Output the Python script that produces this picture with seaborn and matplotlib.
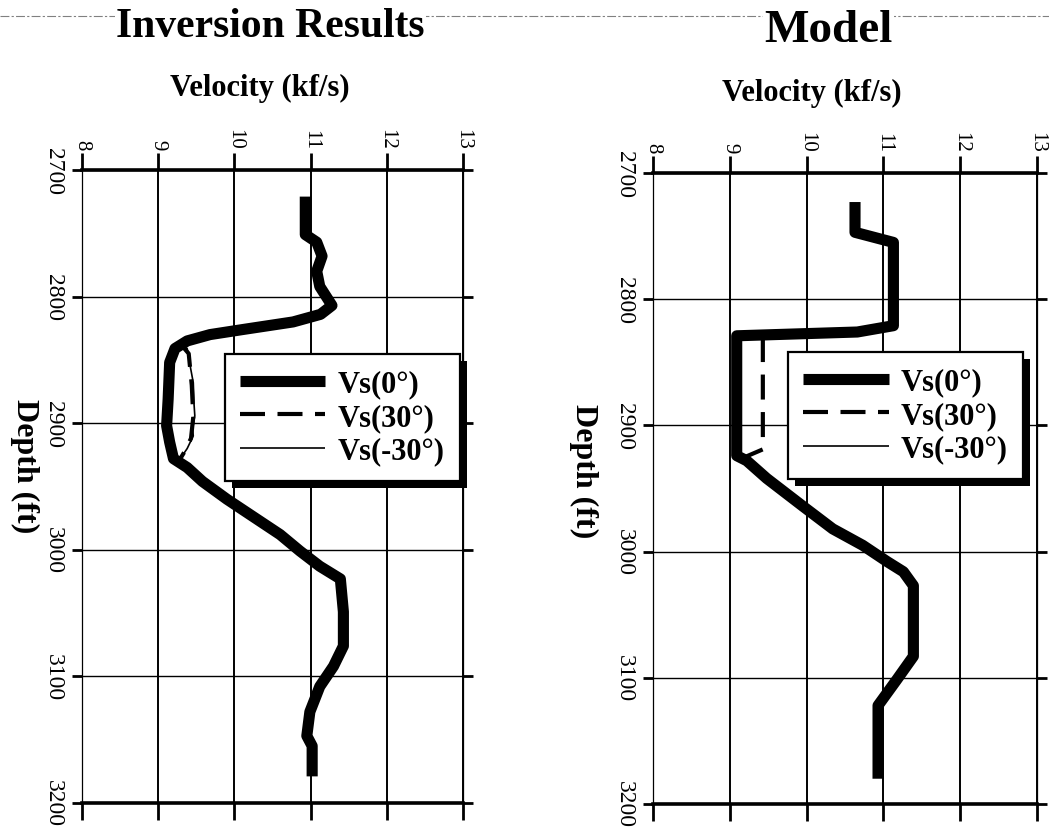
import numpy as np
import pandas as pd
import seaborn as sns
import matplotlib
matplotlib.use("Agg")
import matplotlib.pyplot as plt
from matplotlib.lines import Line2D
from matplotlib.patches import Rectangle
from matplotlib.transforms import IdentityTransform

# ---- data -----------------------------------------------------------------
velocity_ticks = [8, 9, 10, 11, 12, 13]
depth_ticks = [2700, 2800, 2900, 3000, 3100, 3200]
series_labels = ["Vs(0°)", "Vs(30°)", "Vs(-30°)"]

# Inversion results
inv_vs0_depth = [2721, 2751, 2757, 2768, 2780, 2792, 2807, 2814, 2820, 2826, 2830,
                 2835, 2841, 2852, 2881, 2902, 2915, 2928, 2935, 2946, 2960, 2976,
                 2988, 3001, 3013, 3023, 3049, 3076, 3092, 3108, 3128, 3147, 3155, 3179]
inv_vs0_vel = [10.93, 10.93, 11.08, 11.15, 11.08, 11.12, 11.28, 11.13, 10.77, 10.11, 9.68,
               9.38, 9.22, 9.15, 9.13, 9.11, 9.15, 9.20, 9.38, 9.58, 9.90, 10.30,
               10.60, 10.86, 11.12, 11.39, 11.43, 11.43, 11.30, 11.12, 10.99, 10.95, 11.02, 11.02]
inv_vs30_depth = [2838, 2845, 2870, 2895, 2912, 2922, 2932]
inv_vs30_vel = [9.30, 9.40, 9.44, 9.46, 9.43, 9.35, 9.25]
inv_vsm30_depth = [2838, 2841, 2855, 2868, 2885, 2894, 2905, 2910, 2920, 2928, 2932]
inv_vsm30_vel = [9.30, 9.38, 9.42, 9.46, 9.47, 9.48, 9.45, 9.46, 9.38, 9.29, 9.25]

# Model
mod_vs0_depth = [2723, 2747, 2755, 2821, 2826, 2829, 2924, 2928, 2942, 2964, 2982,
                 2995, 3008, 3016, 3027, 3083, 3101, 3122, 3180]
mod_vs0_vel = [10.63, 10.63, 11.13, 11.13, 10.66, 9.09, 9.09, 9.22, 9.48, 9.95, 10.34,
               10.73, 11.05, 11.26, 11.39, 11.39, 11.18, 10.93, 10.93]
mod_vs30_depth = [2830, 2919, 2925]
mod_vs30_vel = [9.43, 9.43, 9.20]
mod_vsm30_depth = [2829, 2924]
mod_vsm30_vel = [9.09, 9.09]

# ---- style ----------------------------------------------------------------
sns.set_style("white")
plt.rcParams["font.family"] = ["Liberation Serif", "DejaVu Serif"]
for key in ["axes.edgecolor", "xtick.color", "ytick.color", "text.color",
            "axes.labelcolor"]:
    plt.rcParams[key] = "black"

fig = plt.figure(figsize=(10.49, 8.29), dpi=100)
ax_inv = fig.add_axes([0.0782, 0.0302, 0.3632, 0.7635])
ax_mod = fig.add_axes([0.6225, 0.0290, 0.3661, 0.7611])

styles = {
    "Vs(0°)": dict(lw=8.0, ls="-"),
    "Vs(30°)": dict(lw=3.0, ls=(0, (6, 3))),
    "Vs(-30°)": dict(lw=1.2, ls="-"),
}


def draw_panel(ax, curves, legend_anchor, title, title_xy, title_size,
               xlabel_xy, ylabel_xy):
    handles = {}
    for label in ["Vs(-30°)", "Vs(30°)", "Vs(0°)"]:
        depth, vel = curves[label]
        df = pd.DataFrame({"Velocity": vel, "Depth": depth})
        sns.lineplot(data=df, x="Velocity", y="Depth", sort=False, estimator=None,
                     color="black", ax=ax, legend=False,
                     linewidth=styles[label]["lw"], linestyle=styles[label]["ls"],
                     solid_capstyle="butt", dash_capstyle="butt", zorder=3)
        handles[label] = ax.lines[-1]

    ax.set_xlim(velocity_ticks[0], velocity_ticks[-1])
    ax.set_ylim(depth_ticks[-1], depth_ticks[0])
    ax.set_xticks(velocity_ticks)
    ax.set_yticks(depth_ticks)
    ax.xaxis.tick_top()
    ax.tick_params(axis="x", which="major", top=True, bottom=True, labeltop=True,
                   labelbottom=False, direction="out", length=12, width=2,
                   labelrotation=-90, labelsize=15, pad=3)
    ax.tick_params(axis="y", which="major", left=True, right=True, labelleft=True,
                   labelright=False, direction="out", length=7, width=2,
                   labelrotation=-90, labelsize=17, pad=6)
    for lab in ax.get_yticklabels():
        lab.set_verticalalignment("center")
    for side in ["top", "bottom"]:
        ax.spines[side].set_linewidth(2.6)
    for side in ["left", "right"]:
        ax.spines[side].set_linewidth(0.9)
    ax.grid(True, axis="x", color="black", linewidth=1.4)
    ax.grid(True, axis="y", color="black", linewidth=1.0)

    ax.xaxis.set_label_position("top")
    ax.set_xlabel("Velocity (kf/s)", fontsize=22, fontweight="bold", va="center")
    ax.xaxis.set_label_coords(*xlabel_xy)
    ax.set_ylabel("Depth (ft)", fontsize=23, fontweight="bold", rotation=-90,
                  va="center", ha="center")
    ax.yaxis.set_label_coords(*ylabel_xy)

    leg = ax.legend([handles[l] for l in series_labels], series_labels,
                    loc="upper right", bbox_to_anchor=legend_anchor, borderaxespad=0,
                    prop={"size": 22, "weight": "bold"}, handlelength=2.8,
                    handletextpad=0.4, labelspacing=0.15, borderpad=0.5,
                    frameon=True, fancybox=False, framealpha=1, edgecolor="black")
    leg.get_frame().set_linewidth(1.6)
    leg.set_zorder(6)

    fig.text(title_xy[0], title_xy[1], title, fontsize=title_size, fontweight="bold",
             ha="center", va="center", zorder=3,
             bbox=dict(facecolor="white", edgecolor="none", pad=1))
    return leg


leg_inv = draw_panel(
    ax_inv,
    {"Vs(0°)": (inv_vs0_depth, inv_vs0_vel),
     "Vs(30°)": (inv_vs30_depth, inv_vs30_vel),
     "Vs(-30°)": (inv_vsm30_depth, inv_vsm30_vel)},
    legend_anchor=(0.992, 0.709), title="Inversion Results",
    title_xy=(0.258, 0.968), title_size=30,
    xlabel_xy=(0.467, 1.13), ylabel_xy=(-0.15, 0.534))

leg_mod = draw_panel(
    ax_mod,
    {"Vs(0°)": (mod_vs0_depth, mod_vs0_vel),
     "Vs(30°)": (mod_vs30_depth, mod_vs30_vel),
     "Vs(-30°)": (mod_vsm30_depth, mod_vsm30_vel)},
    legend_anchor=(0.964, 0.716), title="Model",
    title_xy=(0.790, 0.963), title_size=34,
    xlabel_xy=(0.414, 1.127), ylabel_xy=(-0.18, 0.529))

# faint dashed rule across the top of the page
fig.add_artist(Line2D([0, 1], [0.979, 0.979], transform=fig.transFigure,
                      color="0.5", lw=0.8, ls=(0, (8, 2, 2, 2)), zorder=1))

# solid drop shadow behind each legend box
fig.canvas.draw()
for ax, leg in [(ax_inv, leg_inv), (ax_mod, leg_mod)]:
    bb = leg.get_frame().get_window_extent(fig.canvas.get_renderer())
    shadow = Rectangle((bb.x0 + 7, bb.y0 - 7), bb.width, bb.height,
                       transform=IdentityTransform(), facecolor="black",
                       edgecolor="none", zorder=5.5, clip_on=False)
    ax.add_artist(shadow)

fig.savefig("out.png", dpi=100)
